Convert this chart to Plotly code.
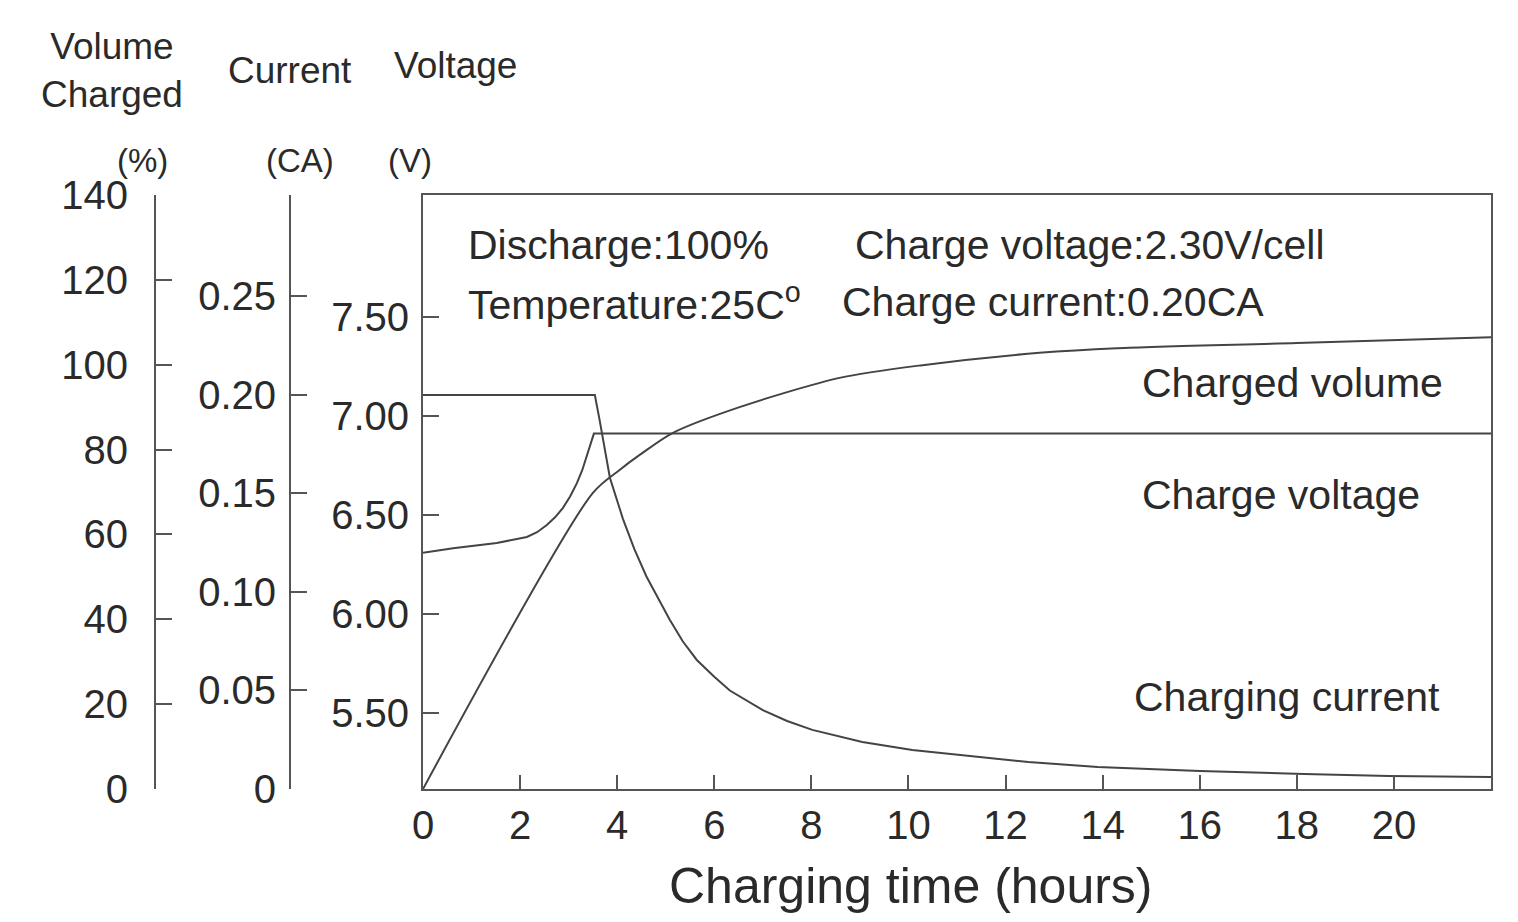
import plotly.graph_objects as go

W, H = 1518, 922
OFF = 8  # default page margin of the html body
FONT = "Liberation Sans, Arial, Helvetica, sans-serif"
INK = "#2a2a2a"
LINE = "#555555"

# ---- data ----
hours_ticks = [0, 2, 4, 6, 8, 10, 12, 14, 16, 18, 20]

current_hours = [0, 3.54, 3.64, 3.85, 4.12, 4.35, 4.6, 5.08, 5.35, 5.64, 6.0, 6.32, 7.0, 7.5, 8.02, 8.5,
                 9.05, 10.08, 11.05, 12.47, 13.9, 16.0, 18.15, 19.9, 22.0]
current_ca = [0.20, 0.20, 0.187, 0.158, 0.137, 0.122, 0.108, 0.086, 0.075, 0.0655, 0.057, 0.050, 0.040, 0.0345,
              0.030, 0.027, 0.0239, 0.0198, 0.0173, 0.0137, 0.0112, 0.0091, 0.0076, 0.0066, 0.0061]

voltage_hours = [0, 0.62, 1.52, 2.14, 2.35, 2.55, 2.72, 2.88, 3.03, 3.17, 3.28, 3.37, 3.45, 3.52, 22.0]
voltage_v = [6.308, 6.331, 6.357, 6.388, 6.412, 6.448, 6.487, 6.534, 6.592, 6.66, 6.725, 6.79, 6.855, 6.91, 6.91]

volume_hours = [0, 3.5, 4.05, 4.47, 5.14, 6.52, 8.58, 10.29, 12.7, 14.3, 18.0, 22.0]
volume_pct = [0, 69.8, 75.2, 78.8, 83.9, 90.0, 96.9, 99.9, 102.8, 103.9, 105.1, 106.5]

volt_ticks = [5.5, 6.0, 6.5, 7.0, 7.5]
volt_labels = ["5.50", "6.00", "6.50", "7.00", "7.50"]
curr_ticks = [0, 0.05, 0.10, 0.15, 0.20, 0.25]
curr_labels = ["0", "0.05", "0.10", "0.15", "0.20", "0.25"]
vol_ticks = [0, 20, 40, 60, 80, 100, 120, 140]

# ---- geometry (pixels of the photo -> paper) ----
def px(x):
    return (x - OFF) / W

def py(y):
    return 1 - (y - OFF) / H

x0, x1, ytop, ybot = 423, 1491, 195, 789

fig = go.Figure()
fig.add_trace(go.Scatter(x=current_hours, y=current_ca, mode="lines", yaxis="y2",
                         line=dict(color="#444", width=2), name="Charging current"))
fig.add_trace(go.Scatter(x=voltage_hours, y=voltage_v, mode="lines", yaxis="y",
                         line=dict(color="#444", width=2), name="Charge voltage"))
fig.add_trace(go.Scatter(x=volume_hours, y=volume_pct, mode="lines", yaxis="y3",
                         line=dict(color="#444", width=2, shape="spline", smoothing=0.8), name="Charged volume"))

tickfont = dict(family=FONT, size=40, color=INK)
common_y = dict(ticks="inside", ticklen=16, tickwidth=2, tickcolor=LINE,
                showline=True, linecolor=LINE, linewidth=2,
                showgrid=False, zeroline=False, tickfont=tickfont, automargin=False)

fig.update_layout(
    width=W, height=H, margin=dict(l=0, r=0, t=0, b=0, autoexpand=False),
    paper_bgcolor="white", plot_bgcolor="white", showlegend=False,
    xaxis=dict(domain=[px(x0), px(x1)], range=[0, 22], tickvals=hours_ticks,
               ticks="inside", ticklen=14, tickwidth=2, tickcolor=LINE,
               showline=True, linecolor=LINE, linewidth=2, mirror=True,
               showgrid=False, zeroline=False, tickfont=tickfont, ticklabelstandoff=0,
               automargin=False),
    yaxis=dict(domain=[py(ybot), py(ytop)], range=[5.115, 8.115], tickvals=volt_ticks, ticktext=volt_labels,
               mirror=True, ticklabelstandoff=4, **common_y),
    yaxis2=dict(overlaying="y", anchor="free", position=px(290), side="left",
                range=[0, 0.3015], tickvals=curr_ticks, ticktext=curr_labels,
                ticklabelstandoff=5, **common_y),
    yaxis3=dict(overlaying="y", anchor="free", position=px(155), side="left",
                range=[0, 140], tickvals=vol_ticks,
                ticklabelstandoff=18, **common_y),
)

def note(text, x, y, size=41, xanchor="left"):
    fig.add_annotation(text=text, x=px(x), y=py(y), xref="paper", yref="paper",
                       xanchor=xanchor, yanchor="middle", showarrow=False,
                       font=dict(family=FONT, size=size, color=INK))

# axis titles
note("Volume<br>Charged", 112, 70, size=37, xanchor="center")
note("Current", 290, 70, size=37, xanchor="center")
note("Voltage", 455, 65, size=37, xanchor="center")
note("(%)", 142, 161, size=33, xanchor="center")
note("(CA)", 300, 161, size=33, xanchor="center")
note("(V)", 410, 161, size=33, xanchor="center")
note("Charging time (hours)", 911, 886, size=50, xanchor="center")

# in-plot texts
note("Discharge:100%", 466, 245)
note("Charge voltage:2.30V/cell", 853, 245)
note("Temperature:25C<sup>o</sup>", 466, 302)
note("Charge current:0.20CA", 840, 302)
note("Charged volume", 1140, 383)
note("Charge voltage", 1140, 495)
note("Charging current", 1132, 697)

fig.write_html("out.html")
